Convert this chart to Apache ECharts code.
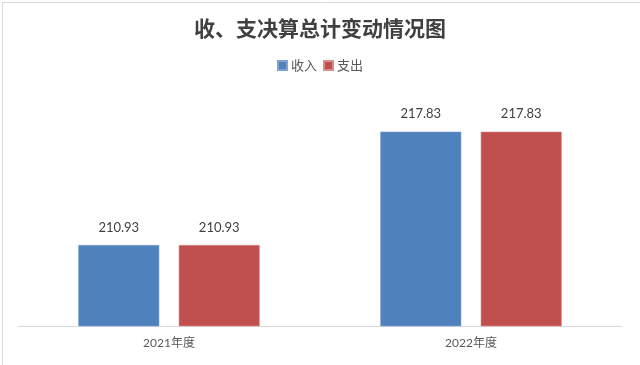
<!DOCTYPE html>
<html>
<head>
<meta charset="utf-8">
<script src="https://cdn.jsdelivr.net/npm/echarts@6/dist/echarts.min.js"></script>
<style>
html,body{margin:0;padding:0;background:#fff;}
#c{width:640px;height:365px;}
</style>
</head>
<body>
<div id="c"></div>
<script>
var categories = ['2021年度', '2022年度'];
var income = [210.93, 217.83];
var expense = [210.93, 217.83];
var seriesNames = ['收入', '支出'];

var chart = echarts.init(document.getElementById('c'), null, {renderer: 'canvas'});
var labelFont = 'Lato, "Noto Sans CJK SC", sans-serif';
chart.setOption({
  animation: false,
  backgroundColor: '#fff',
  graphic: [{
    type: 'rect', left: 0, top: 0, silent: true,
    shape: {x: 0.5, y: 0.5, width: 639, height: 364},
    style: {fill: 'none', stroke: '#d9d9d9', lineWidth: 1}
  }],
  title: {
    text: '收、支决算总计变动情况图',
    left: 'center', top: 13,
    textStyle: {fontFamily: '"Noto Sans CJK SC", sans-serif', fontWeight: 'bold', fontSize: 21, color: '#404040'}
  },
  legend: {
    data: seriesNames,
    top: 54, left: 'center',
    itemWidth: 9, itemHeight: 9, itemGap: 6,
    icon: 'rect',
    textStyle: {fontFamily: labelFont, fontSize: 13, color: '#595959', padding: [0, 0, 0, -1]}
  },
  grid: {left: 18, right: 18, top: 96, bottom: 39, containLabel: false},
  xAxis: {
    type: 'category', data: categories,
    axisLine: {lineStyle: {color: '#d9d9d9', width: 1}},
    axisTick: {show: false},
    axisLabel: {fontFamily: labelFont, fontSize: 12, color: '#595959', margin: 11}
  },
  yAxis: {
    type: 'value', min: 206, max: 220, show: false,
    splitLine: {show: false}
  },
  series: [{
    name: seriesNames[0], type: 'bar', data: income,
    barWidth: 81, barGap: '24%',
    itemStyle: {color: '#4F81BD', borderColor: '#7ea3d3', borderWidth: 0.6},
    label: {show: true, position: 'top', distance: 11, fontFamily: labelFont, fontSize: 13, color: '#404040'}
  }, {
    name: seriesNames[1], type: 'bar', data: expense,
    barWidth: 81,
    itemStyle: {color: '#C0504D', borderColor: '#dc8c8a', borderWidth: 0.6},
    label: {show: true, position: 'top', distance: 11, fontFamily: labelFont, fontSize: 13, color: '#404040'}
  }]
});
</script>
</body>
</html>
